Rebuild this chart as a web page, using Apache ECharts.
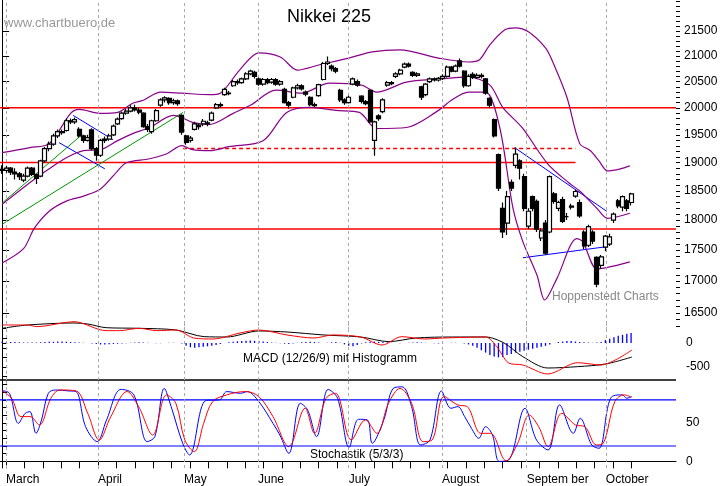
<!DOCTYPE html>
<html><head><meta charset="utf-8">
<script src="https://cdn.jsdelivr.net/npm/echarts@6/dist/echarts.min.js"></script>
<style>html,body{margin:0;padding:0;background:#fff}#c{width:723px;height:486px}</style>
</head><body><div id="c"></div>
<script>
// [open, close, low, high]
const candles = [
[18880,18860,18800,18950],[18860,18900,18820,18940],[18900,18830,18780,18920],[18830,18800,18700,18900],[18800,18750,18690,18830],
[18690,18760,18650,18800],[18760,18900,18740,18930],[18900,18790,18760,18920],[18790,18720,18620,18800],[18760,19030,18740,19050],
[19030,19250,19000,19280],[19250,19330,19200,19380],[19330,19480,19300,19520],[19480,19560,19440,19600],[19560,19540,19500,19600],
[19580,19760,19560,19800],[19760,19740,19700,19800],[19740,19780,19700,19820],[19600,19480,19450,19640],[19480,19400,19350,19500],
[19400,19450,19380,19500],[19590,19250,19220,19620],[19250,19130,19030,19280],[19130,19400,19100,19430],[19400,19420,19350,19470],
[19420,19480,19390,19520],[19500,19660,19480,19690],[19700,19790,19680,19820],[19800,19900,19780,19930],[19900,19940,19870,19980],
[19940,20000,19920,20050],[20000,19960,19930,20060],[19960,19920,19880,20000],[19900,19650,19630,19920],[19650,19600,19550,19700],
[19560,19760,19520,19780],[19760,19950,19740,19980],[20050,20150,20020,20180],[20150,20190,20100,20220],[20180,20100,20060,20200],
[20100,20130,20060,20170],[20130,20080,20040,20160],[19860,19550,19500,19880],[19480,19360,19320,19500],[19400,19440,19360,19480],
[19600,19700,19580,19740],[19680,19650,19600,19720],[19700,19750,19660,19790],[19720,19700,19660,19760],[19770,19900,19750,19930],
[20000,20060,19980,20090],[20060,20040,20000,20100],[20250,20350,20230,20380],[20270,20280,20240,20320],[20420,20500,20400,20530],
[20500,20480,20440,20540],[20480,20550,20460,20580],[20550,20650,20530,20680],[20650,20700,20620,20730],[20680,20600,20560,20710],
[20550,20450,20420,20580],[20450,20540,20420,20570],[20540,20480,20450,20570],[20490,20540,20460,20570],[20540,20450,20420,20570],
[20450,20500,20420,20530],[20350,20100,20080,20380],[20100,20050,19990,20130],[20200,20380,20180,20400],[20380,20420,20350,20460],
[20420,20360,20330,20450],[20300,20260,20220,20330],[20200,20060,20030,20220],[20060,20040,20000,20100],[20230,20440,20210,20460],
[20540,20850,20520,20880],[20850,20880,20820,20990],[20800,20750,20700,20830],[20750,20700,20660,20780],[20330,20150,20110,20360],
[20150,20100,20060,20180],[20100,20200,20080,20230],[20450,20550,20430,20580],[20500,20430,20400,20540],[20220,20120,20080,20240],
[20120,20080,20050,20150],[20330,19740,19720,20350],[19400,19740,19120,19760],[19850,19800,19760,19880],[19930,20150,19900,20180],
[20430,20480,20400,20510],[20480,20460,20430,20510],[20600,20650,20570,20680],[20650,20720,20620,20750],[20780,20840,20760,20870],
[20840,20800,20770,20870],[20680,20620,20590,20700],[20620,20650,20590,20680],[20400,20200,20150,20420],[20250,20450,20220,20470],
[20500,20550,20470,20580],[20550,20530,20500,20580],[20530,20560,20500,20590],[20560,20600,20530,20640],[20600,20780,20580,20810],
[20780,20700,20680,20800],[20700,20800,20680,20830],[20900,20800,20770,20950],[20700,20420,20380,20720],[20420,20600,20400,20640],
[20640,20580,20550,20680],[20580,20620,20550,20660],[20620,20600,20560,20660],[20550,20280,20250,20570],[20180,20050,20000,20200],
[19780,19480,19450,19800],[19140,18550,18500,19160],[18200,17800,17700,18300],[17950,18400,17750,18500],[18650,18550,18500,18700],
[18950,19150,18900,19270],[19030,18900,18700,19060],[18750,18200,18150,18800],[17900,18150,17850,18200],[18400,18200,18150,18420],
[18320,17850,17800,18350],[17700,17820,17650,17860],[17950,17450,17420,18000],[17800,18750,17780,18770],[18450,18320,18280,18480],
[18200,18300,18150,18330],[18350,17980,17950,18400],[18060,18060,18000,18120],[18220,18240,18180,18280],[18410,18490,18380,18520],
[18300,18070,18040,18350],[17800,17570,17520,17830],[17580,17890,17550,17920],[17800,17650,17600,17830],[17380,16950,16900,17400],
[17250,17390,17200,17420],[17550,17730,17480,17750],[17600,17720,17570,17770],[18000,18100,17950,18130],[18330,18240,18200,18360],
[18220,18400,18150,18420],[18330,18200,18150,18360],[18300,18450,18250,18470]
];
const bbUpper = [[0,19176],[6.5,19267],[11,19340],[16,19897],[18,19972],[23,19897],[27,19915],[30.5,20086],[33,20143],[37,20297],[42,20278],[48.5,20250],[51,20278],[55.5,20722],[60,21060],[65,20978],[69,20722],[74,20821],[81,20957],[86.5,21080],[93,21120],[102,20957],[109,20880],[111.5,20918],[114,21220],[117.5,21520],[120,21560],[123,21480],[127,21160],[128.5,20918],[132,20200],[135,19340],[137.5,19212],[139.5,19031],[141.5,18852],[144.5,18888],[146.7,18941]];
const bbMiddle = [[0,18270],[7,18674],[11,18888],[15,19085],[19,19212],[23,19230],[27,19394],[30.5,19523],[34.5,19635],[40,19859],[42,19821],[44.5,19728],[48.5,19690],[54,19897],[58,20048],[64,20335],[70,20278],[76.5,20470],[84,20431],[87.5,20297],[94.5,20489],[102,20547],[109,20585],[114,20431],[117,20010],[121.5,19635],[127.5,18977],[132.5,18639],[135,18498],[139,18202],[141.5,18030],[146.7,18116]];
const bbLower = [[0,17290],[5,17524],[7.5,17860],[11,18150],[15,18323],[19,18410],[23,18533],[27,18852],[29,18995],[34.5,19067],[38.5,19157],[42,19303],[44.5,19230],[48.5,19212],[53,19285],[61,19394],[66.5,19915],[72,20010],[78,19953],[83.5,19915],[87.5,19616],[94.5,19635],[102,19953],[105,20143],[109,20297],[113,20297],[116.3,19635],[119.4,18202],[121.7,17640],[125,17095],[126.8,16700],[129.6,17030],[134.3,17690],[135.7,17640],[139,17193],[142,17226],[146.7,17308]];
const hLines = [{y:20000,from:-0.5,to:157.5},{y:19000,from:-0.5,to:134},{y:17850,from:-0.5,to:157.5}];
const dashedLine = {y:19250,from:42.3,to:134};
const greenLines = [[[0,18290],[18.7,19505]],[[0,17930],[42.3,19915]]];
const blueLines = [[[16.6,19859],[25.9,19412]],[[13.3,19358],[24,18888]],[[119.8,19267],[141.3,18150]],[[121.7,17375],[141.3,17557]]];
const macdLine = [[0,306],[6,375],[16.8,417],[20,396],[24.3,319],[32,306],[40.6,271],[47.2,132],[52.5,125],[60,250],[66.6,229],[75.2,167],[83.8,125],[90.4,28],[96.7,104],[105.3,125],[113,125],[117.3,0],[121.7,-285],[127.5,-521],[134.5,-493],[141.1,-437],[147.2,-292]];
const macdSignal = [[0,375],[6,375],[8.1,340],[16.8,444],[24.3,257],[27.5,257],[32,306],[36.2,257],[40.6,271],[44.8,104],[49.3,83],[55.6,208],[60,271],[66.6,167],[72.9,104],[77.3,167],[83.8,125],[88.8,-42],[93.4,132],[98.8,83],[103.2,104],[113,125],[115.6,-76],[118.4,-417],[121.7,-458],[127.5,-646],[134.5,-410],[139.9,-458],[147.2,-146]];
const macdHist = [30,25,20,20,15,10,10,10,10,15,20,25,25,30,30,25,20,15,10,5,0,
-10,-20,-30,-30,-25,-20,-15,-10,-5,5,10,15,10,5,0,-5,-5,0,5,5,0,-10,
-60,-90,-100,-90,-80,-70,-55,-40,-20,0,15,25,35,40,45,50,45,
40,30,20,10,5,-5,-15,-20,-10,5,15,20,25,20,10,0,5,15,20,5,-30,
-60,-70,-40,-10,15,25,30,25,20,10,5,0,-5,0,5,10,15,10,5,0,-5,-10,
-5,0,5,5,0,-10,-30,-60,-100,-150,-200,-250,-280,-300,-290,-250,-230,-200,-180,-160,
-140,-120,-100,-80,-60,-30,0,20,30,40,40,30,20,15,10,5,10,20,
60,90,120,150,170,190,210];
const stochK = [[0,92],[1.7,88.7],[3.8,49.5],[5.4,62.6],[6.5,64.8],[7.9,36.5],[9.2,53.9],[10.8,88.7],[12.5,93],[15.7,91.7],[17.3,90.9],[19.5,45.2],[22.2,25.7],[24.4,53.9],[27.8,93.8],[30.8,86.6],[33.9,25.7],[35.7,32.2],[37.9,95],[39.5,71.3],[42.2,23.5],[43.8,8.3],[47.6,79.2],[50.8,80.1],[52.5,90.9],[55.7,88.7],[57.3,90.9],[60,77.8],[63.3,49.5],[64.9,34.3],[67,10.4],[69.7,75.7],[71.4,67],[73.5,32.2],[76.2,93.8],[78.4,82.2],[81.1,18.3],[83.3,54.8],[85.4,53.9],[86.5,23.5],[89.2,53.9],[91.4,95],[93.5,97.1],[95.7,71.3],[97.8,21.3],[100,27.8],[102.7,91.7],[104.9,69.1],[106.5,71.3],[108.1,58.3],[109.7,43],[111.4,30],[113,45.2],[114.6,34.3],[116.2,0],[118.4,1.7],[122.2,69.1],[124.9,27.8],[127.6,14.8],[130.3,73.5],[133.5,36.5],[135.1,56.1],[137.8,21.3],[139.5,17],[142.2,82.2],[144.9,86.6],[146,82.2],[147.1,84.4]];
const stochD = [[0,92.1],[2.2,82.2],[4.4,58.3],[6.5,58.3],[8.7,47.4],[11.4,82.2],[13.5,93],[17.3,91.7],[20,62.6],[22.7,27.8],[25.4,58.3],[29.2,90.9],[31.9,71.3],[35.2,34.3],[38.4,86.6],[40.6,75.7],[42.7,27.8],[44.9,12.6],[47.1,49.5],[49.2,77.8],[52.5,86.6],[56.8,90.9],[60,84.4],[63.3,58.3],[67,19.2],[70.8,69.1],[73,36.5],[75.7,82.2],[77.9,88.7],[81.6,27.8],[84.9,53.9],[87.6,36.5],[90.3,75.7],[93,95],[95.7,75.7],[98.4,25.7],[100.5,27.8],[103.3,84.4],[106.5,73.5],[108.7,71.3],[111.9,36.5],[114.1,36.5],[117.8,0.8],[120.5,23.5],[123.2,60.4],[125.4,45.2],[127.6,19.2],[130.8,62.6],[134,47.4],[136.2,45.2],[138.9,21.3],[140.5,23.5],[143.2,77.8],[145.4,86.6],[147.1,83.5]];
const monthPos = [0.9,22.4,42.5,59.8,81,102.8,122.6,141.1];
const monthNames = ['March','April','May','June','July','August','Septem ber','October'];
const priceTicks = [16500,17000,17500,18000,18500,19000,19500,20000,20500,21000,21500];
const SLOTS = 158;

const cats = Array.from({length:SLOTS},(_,i)=>i);
const minorTicks=[]; for(let v=16300;v<=22100;v+=100) minorTicks.push(v);
const weekTicks=[]; for(let v=0.9;v<150;v+=4.3) weekTicks.push(+v.toFixed(1));
const font='Liberation Sans';
const monthMark = ()=>({silent:true,symbol:'none',label:{show:false},lineStyle:{color:'#aaa',type:[3,3],width:1},data:monthPos.map(p=>({xAxis:p}))});

const chart = echarts.init(document.getElementById('c'),null,{renderer:'canvas'});
const hidX = (g,type)=> type==='category'
  ? {type:'category',gridIndex:g,data:cats,show:false,boundaryGap:true}
  : {type:'value',gridIndex:g,min:-0.5,max:SLOTS-0.5,show:false};
const seg = (pts,color,width,dash,xi,yi)=>({type:'line',xAxisIndex:xi,yAxisIndex:yi,data:pts,symbol:'none',silent:true,lineStyle:{color,width,type:dash||'solid'},z:3,animation:false});

const series = [];
hLines.forEach((h,k)=>{
  const s = seg([[h.from,h.y],[h.to,h.y]],'#ff0000',1.5,null,1,0);
  if(k===0) s.markLine = monthMark();
  series.push(s);
});
series.push(seg([[dashedLine.from,dashedLine.y],[dashedLine.to,dashedLine.y]],'#ff0000',1.5,[4,3],1,0));
greenLines.forEach(g=>series.push(seg(g,'#009900',1,null,1,0)));
blueLines.forEach(g=>series.push(seg(g,'#0000ff',1,null,1,0)));
[bbUpper,bbMiddle,bbLower].forEach(b=>{const s=seg(b,'#8b008b',1.2,null,1,0);s.smooth=0.3;series.push(s);});
series.push({type:'candlestick',xAxisIndex:0,yAxisIndex:0,data:candles,barWidth:4.5,z:5,animation:false,
  itemStyle:{color:'#ffffff',color0:'#000000',borderColor:'#000000',borderColor0:'#000000',borderWidth:1.2}});
// MACD
series.push({type:'bar',xAxisIndex:2,yAxisIndex:2,data:macdHist,barWidth:1.3,itemStyle:{color:'#0000ff'},animation:false,silent:true});
const ml = seg(macdLine,'#000000',1,null,3,2); ml.markLine = monthMark(); ml.smooth=0.3; series.push(ml);
const ms = seg(macdSignal,'#ff0000',1,null,3,2); ms.smooth=0.3; series.push(ms);
// Stoch
const sk = seg(stochK,'#0000ff',1,null,4,3); sk.markLine = monthMark(); sk.smooth=0.35; series.push(sk);
const sd = seg(stochD,'#ff0000',1,null,4,3); sd.smooth=0.35; series.push(sd);
series.push(seg([[-0.5,80],[SLOTS-0.5,80]],'#0000ff',1.2,null,4,3));
series.push(seg([[-0.5,20],[SLOTS-0.5,20]],'#0000ff',1.2,null,4,3));

const axLbl = {color:'#000',fontFamily:font,fontSize:12};
chart.setOption({
  animation:false,
  backgroundColor:'#fff',
  grid:[{left:0,right:47,top:0,height:330},{left:0,right:47,top:320,height:60},{left:0,right:47,top:380,height:88}],
  xAxis:[hidX(0,'category'),hidX(0,'value'),hidX(1,'category'),hidX(1,'value'),
    {type:'value',gridIndex:2,min:-0.5,max:SLOTS-0.5,position:'bottom',
     axisLine:{show:true,lineStyle:{color:'#000'}},splitLine:{show:false},
     axisTick:{show:true,customValues:weekTicks,length:7,lineStyle:{color:'#000'}},
     axisLabel:{...axLbl,customValues:monthPos,align:'left',margin:6,formatter:v=>{const k=monthPos.findIndex(p=>Math.abs(p-v)<0.01);return k>=0?monthNames[k]:'';}}}
  ],
  yAxis:[
    {type:'log',logBase:10,gridIndex:0,min:16236,max:22131,position:'right',
     axisLine:{show:true,lineStyle:{color:'#000'}},splitLine:{show:false},
     axisTick:{show:true,customValues:priceTicks,length:7,lineStyle:{color:'#000'}},
     axisLabel:{...axLbl,customValues:priceTicks,margin:8,formatter:v=>String(Math.round(v))}},
    {type:'log',logBase:10,gridIndex:0,min:16236,max:22131,position:'right',
     axisLine:{show:false},splitLine:{show:false},axisLabel:{show:false},
     axisTick:{show:true,customValues:minorTicks,length:4,lineStyle:{color:'#000'}}},
    {type:'value',gridIndex:1,min:-771,max:479,position:'right',
     axisLine:{show:true,lineStyle:{color:'#000'}},splitLine:{show:false},
     axisTick:{show:true,customValues:[-700,-500,-300,-100,0,100,300],length:5,lineStyle:{color:'#000'}},
     axisLabel:{...axLbl,customValues:[0,-500],margin:10,formatter:v=>String(v)}},
    {type:'value',gridIndex:2,min:-8.7,max:106,position:'right',
     axisLine:{show:true,lineStyle:{color:'#000'}},splitLine:{show:false},
     axisTick:{show:true,customValues:[0,10,20,30,40,50,60,70,80,90,100],length:5,lineStyle:{color:'#000'}},
     axisLabel:{...axLbl,customValues:[0,50],margin:10,formatter:v=>String(v)}}
  ],
  graphic:[
    {type:'line',shape:{x1:0,y1:380,x2:676,y2:380},style:{stroke:'#000',lineWidth:1.5},silent:true},
    {type:'text',left:287,top:8,style:{text:'Nikkei 225',font:'18px '+font,fill:'#000'}},
    {type:'text',left:4,top:17,style:{text:'www.chartbuero.de',font:'13px '+font,fill:'#999'}},
    {type:'text',left:552,top:291,style:{text:'Hoppenstedt Charts',font:'12px '+font,fill:'#888'}},
    {type:'text',left:243,top:353,style:{text:'MACD (12/26/9) mit Histogramm',font:'12px '+font,fill:'#000'}},
    {type:'text',left:310,top:449,style:{text:'Stochastik (5/3/3)',font:'12px '+font,fill:'#000'}}
  ],
  series
});
</script></body></html>
